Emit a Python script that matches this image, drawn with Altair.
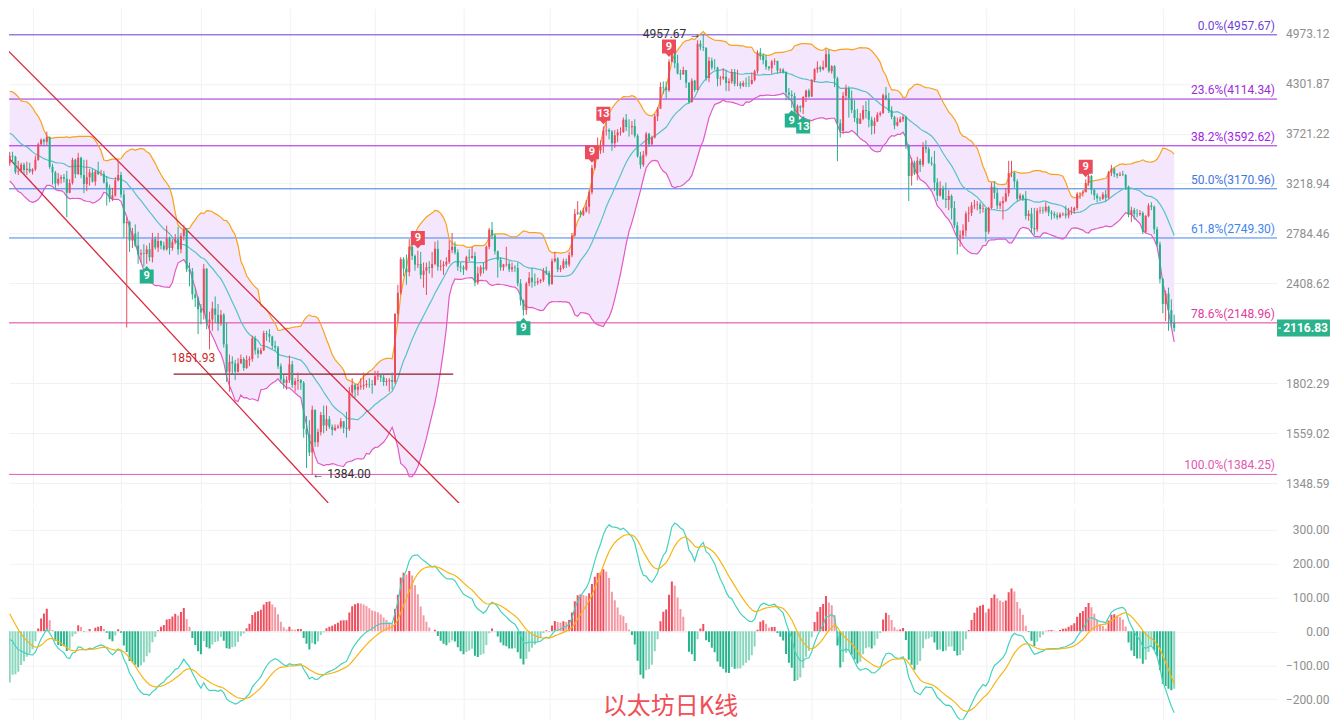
import altair as alt
import numpy as np
import pandas as pd

TITLE = "以太坊日K线"

# ---------------- data (ETH/USDT daily) ----------------
# warm-up closes (2024-09-01 .. 2024-12-23) used only for the indicators
warm_close = [
    2530, 2515, 2450, 2420, 2370, 2225, 2275, 2270, 2350, 2340, 2360, 2360, 2440, 2415, 2320,
    2290, 2340, 2330, 2470, 2560, 2615, 2580, 2650, 2650, 2580, 2630, 2695, 2680, 2655, 2600,
    2450, 2470, 2350, 2420, 2410, 2440, 2420, 2440, 2370, 2385, 2440, 2470, 2470, 2630, 2610,
    2610, 2605, 2650, 2645, 2750, 2670, 2620, 2520, 2535, 2420, 2470, 2505, 2565, 2640, 2660, 2520,
    2510, 2515, 2455, 2400, 2420, 2720, 2890, 2960, 3130, 3180, 3370, 3250, 3185, 3060, 3100,
    3130, 3075, 3210, 3100, 3070, 3355, 3330, 3390, 3360, 3415, 3325, 3655, 3590, 3590, 3705,
    3710, 3640, 3615, 3835, 3785, 4000, 3995, 4005, 3715, 3630, 3835, 3880, 3910, 3875, 3960,
    3990, 3890, 3625, 3420, 3470, 3330, 3280, 3415,
]

c_2412 = [3490, 3480, 3330, 3335, 3400, 3350, 3360, 3335]
h_2412 = [3530, 3530, 3490, 3440, 3420, 3420, 3430, 3420]
l_2412 = [3390, 3420, 3310, 3300, 3320, 3310, 3300, 3320]

c_2501 = [3355, 3450, 3610, 3655, 3635, 3685, 3380, 3325, 3220, 3265, 3280, 3265, 3135, 3225, 3450, 3310,
          3470, 3300, 3215, 3280, 3325, 3240, 3335, 3310, 3310, 3230, 3180, 3080, 3110, 3250, 3300]
h_2501 = [3365, 3490, 3625, 3670, 3670, 3745, 3690, 3410, 3340, 3320, 3300, 3310, 3340, 3260, 3470, 3460,
          3520, 3480, 3450, 3450, 3360, 3360, 3350, 3430, 3350, 3340, 3290, 3210, 3180, 3280, 3440]
l_2501 = [3305, 3340, 3440, 3590, 3590, 3600, 3360, 3210, 3170, 3200, 3220, 3230, 2920, 3130, 3210, 3270,
          3300, 3270, 3130, 3150, 3200, 3230, 3200, 3300, 3290, 3220, 3020, 3050, 3060, 3100, 3240]

c_2502 = [3120, 2870, 2880, 2730, 2785, 2690, 2620, 2630, 2625, 2660, 2600, 2740, 2675, 2725,
          2690, 2660, 2745, 2670, 2715, 2740, 2660, 2765, 2815, 2510, 2495, 2335, 2310, 2235]
h_2502 = [3330, 3160, 2920, 2890, 2830, 2860, 2800, 2660, 2700, 2690, 2710, 2790, 2760, 2790,
          2730, 2720, 2850, 2760, 2740, 2780, 2840, 2790, 2855, 2830, 2560, 2520, 2380, 2320]
l_2502 = [3090, 2750, 2120, 2640, 2670, 2680, 2550, 2560, 2530, 2550, 2570, 2560, 2660, 2640,
          2660, 2650, 2650, 2620, 2650, 2700, 2620, 2630, 2730, 2490, 2390, 2300, 2250, 2080]

c_2503 = [2215, 2515, 2150, 2170, 2240, 2200, 2145, 2200, 2020, 1865, 1920, 1910, 1865, 1910, 1935, 1885,
          1930, 1935, 2055, 1985, 1965, 1985, 2085, 2080, 2065, 2010, 2000, 1895, 1825, 1805, 1820]
h_2503 = [2270, 2550, 2520, 2220, 2285, 2320, 2270, 2230, 2210, 2150, 1960, 1950, 1930, 1940, 1960, 1945,
          1955, 1950, 2070, 2070, 2000, 2000, 2100, 2100, 2110, 2070, 2040, 2010, 1910, 1850, 1840]
l_2503 = [2140, 2170, 2110, 1990, 2100, 2150, 2100, 2130, 2000, 1810, 1760, 1850, 1820, 1860, 1910, 1870,
          1880, 1895, 1920, 1960, 1940, 1960, 1980, 2040, 2030, 1990, 1980, 1880, 1810, 1775, 1770]

c_2504 = [1905, 1795, 1815, 1820, 1805, 1580, 1555, 1475, 1670, 1520, 1565, 1645, 1595, 1625, 1590,
          1575, 1585, 1590, 1615, 1585, 1580, 1755, 1795, 1770, 1785, 1790, 1795, 1800, 1798, 1795]
h_2504 = [1955, 1925, 1830, 1860, 1825, 1815, 1640, 1620, 1690, 1670, 1580, 1660, 1690, 1690, 1640,
          1600, 1600, 1600, 1630, 1610, 1660, 1785, 1830, 1800, 1800, 1830, 1860, 1820, 1830, 1820]
l_2504 = [1805, 1780, 1760, 1770, 1770, 1540, 1410, 1460, 1384, 1500, 1500, 1550, 1560, 1570, 1580,
          1550, 1570, 1580, 1580, 1560, 1540, 1570, 1730, 1730, 1740, 1770, 1770, 1780, 1780, 1750]

c_2505 = [1840, 1845, 1835, 1810, 1815, 1820, 1810, 2205, 2345, 2585, 2515, 2490, 2680, 2610, 2545, 2550,
          2470, 2500, 2525, 2520, 2550, 2665, 2530, 2535, 2545, 2565, 2655, 2680, 2635, 2530, 2525]
h_2505 = [1870, 1870, 1850, 1850, 1830, 1830, 1860, 2210, 2400, 2600, 2600, 2620, 2740, 2730, 2620, 2650,
          2640, 2560, 2560, 2570, 2640, 2720, 2730, 2580, 2570, 2600, 2730, 2790, 2720, 2660, 2560]
l_2505 = [1790, 1820, 1810, 1790, 1790, 1760, 1770, 1800, 2150, 2330, 2460, 2400, 2460, 2580, 2500, 2520,
          2440, 2380, 2330, 2480, 2450, 2540, 2500, 2500, 2470, 2530, 2550, 2630, 2620, 2500, 2490]

c_2506 = [2510, 2600, 2595, 2610, 2415, 2480, 2525, 2510, 2680, 2815, 2770, 2645, 2580, 2525, 2545,
          2550, 2510, 2525, 2520, 2410, 2295, 2230, 2410, 2450, 2420, 2415, 2425, 2435, 2500, 2485]
h_2506 = [2540, 2610, 2660, 2680, 2640, 2530, 2540, 2560, 2690, 2830, 2880, 2780, 2650, 2600, 2550,
          2680, 2570, 2560, 2540, 2560, 2440, 2300, 2420, 2490, 2520, 2480, 2450, 2440, 2520, 2530]
l_2506 = [2470, 2500, 2570, 2590, 2390, 2400, 2460, 2480, 2500, 2660, 2740, 2620, 2450, 2500, 2500,
          2530, 2490, 2490, 2490, 2390, 2260, 2195, 2200, 2390, 2380, 2390, 2400, 2410, 2420, 2470]

c_2507 = [2405, 2570, 2590, 2510, 2520, 2570, 2545, 2615, 2770, 2950, 2960, 2940, 2970, 3010, 3140, 3370,
          3475, 3545, 3595, 3755, 3760, 3745, 3620, 3705, 3735, 3740, 3875, 3795, 3790, 3805, 3700]
h_2507 = [2500, 2590, 2640, 2600, 2540, 2590, 2590, 2640, 2790, 2990, 3060, 2980, 3000, 3070, 3160, 3400,
          3540, 3680, 3650, 3800, 3860, 3780, 3760, 3760, 3770, 3790, 3900, 3940, 3880, 3860, 3880]
l_2507 = [2390, 2400, 2560, 2490, 2490, 2510, 2520, 2530, 2600, 2760, 2940, 2920, 2930, 2960, 2950, 3120,
          3350, 3460, 3510, 3520, 3700, 3660, 3540, 3570, 3630, 3700, 3730, 3750, 3690, 3710, 3680]

c_2508 = [3485, 3400, 3500, 3720, 3610, 3680, 3915, 4000, 4260, 4255, 4220, 4585, 4750, 4565, 4430, 4420,
          4475, 4315, 4080, 4340, 4225, 4830, 4785, 4775, 4375, 4600, 4510, 4505, 4365, 4370, 4390]
h_2508 = [3720, 3530, 3540, 3740, 3730, 3700, 3940, 4020, 4320, 4330, 4330, 4620, 4790, 4790, 4680, 4480,
          4520, 4470, 4320, 4370, 4350, 4880, 4880, 4957.67, 4780, 4650, 4640, 4620, 4520, 4400, 4500]
l_2508 = [3470, 3360, 3380, 3480, 3580, 3600, 3670, 3860, 4000, 4180, 4120, 4200, 4580, 4500, 4420, 4350,
          4420, 4250, 4060, 4070, 4200, 4220, 4740, 4730, 4340, 4320, 4480, 4480, 4270, 4280, 4350]

c_2509 = [4310, 4330, 4450, 4300, 4305, 4275, 4310, 4305, 4300, 4350, 4460, 4710, 4665, 4605, 4520,
          4500, 4590, 4595, 4470, 4480, 4450, 4195, 4165, 4150, 3875, 4030, 4015, 4140, 4215, 4145]
h_2509 = [4480, 4370, 4490, 4490, 4480, 4330, 4340, 4380, 4400, 4440, 4480, 4740, 4770, 4700, 4680,
          4530, 4610, 4630, 4600, 4500, 4500, 4460, 4250, 4220, 4190, 4050, 4040, 4150, 4230, 4240]
l_2509 = [4210, 4210, 4300, 4270, 4270, 4240, 4260, 4260, 4260, 4290, 4330, 4430, 4610, 4550, 4480,
          4470, 4430, 4540, 4430, 4440, 4430, 4100, 4100, 4010, 3830, 3820, 3960, 3940, 4080, 4130]

c_2510 = [4350, 4485, 4510, 4485, 4515, 4685, 4460, 4525, 4370, 3835, 3750, 4155, 4245, 4125, 3985, 3895,
          3830, 3885, 3985, 3975, 3875, 3805, 3855, 3935, 3950, 4160, 4115, 3980, 3905, 3810, 3850]
h_2510 = [4360, 4500, 4590, 4530, 4600, 4755, 4750, 4540, 4540, 4390, 3880, 4200, 4290, 4270, 4220, 4100,
          4000, 3950, 4040, 4090, 4110, 3910, 3900, 3960, 3970, 4180, 4260, 4190, 4030, 3920, 3900]
l_2510 = [4140, 4320, 4440, 4450, 4470, 4500, 4440, 4430, 4260, 3435, 3680, 3720, 4100, 3900, 3950, 3850,
          3700, 3830, 3870, 3890, 3790, 3710, 3720, 3850, 3910, 3940, 4100, 3950, 3880, 3770, 3800]

c_2511 = [3880, 3905, 3600, 3290, 3420, 3315, 3440, 3400, 3580, 3560, 3420, 3410, 3230, 3110, 3170,
          3080, 3070, 3105, 3000, 2850, 2760, 2770, 2810, 2950, 2955, 3020, 3025, 3030, 2990, 2995]
h_2511 = [3910, 3930, 3920, 3610, 3470, 3440, 3480, 3460, 3630, 3650, 3580, 3480, 3540, 3270, 3240,
          3200, 3230, 3160, 3120, 3060, 2880, 2810, 2860, 2970, 3010, 3050, 3070, 3060, 3050, 3030]
l_2511 = [3840, 3850, 3560, 3060, 3200, 3300, 3250, 3330, 3380, 3520, 3410, 3390, 3150, 3060, 3100,
          3070, 3000, 2980, 2900, 2830, 2620, 2680, 2740, 2760, 2880, 2930, 2990, 2980, 2950, 2960]

c_2512 = [2800, 3000, 3190, 3135, 3020, 3040, 3060, 3130, 3320, 3325, 3240, 3080, 3110, 3080, 2930, 2950,
          2830, 2820, 2975, 2980, 2975, 3010, 2960, 2950, 2935, 2920, 2945, 2950, 2935, 2970, 2975]
h_2512 = [3000, 3010, 3230, 3240, 3180, 3060, 3100, 3180, 3440, 3440, 3330, 3260, 3130, 3120, 3150, 2980,
          3000, 3000, 3000, 3010, 3010, 3050, 3020, 2980, 2970, 2960, 2960, 2960, 3020, 3000, 3010]
l_2512 = [2720, 2780, 2990, 3080, 2990, 2990, 2900, 3050, 3100, 3280, 3180, 3060, 3070, 3060, 2900, 2890,
          2790, 2775, 2800, 2950, 2950, 2960, 2930, 2900, 2910, 2900, 2910, 2930, 2910, 2910, 2940]

c_2601 = [3000, 3125, 3130, 3140, 3225, 3290, 3160, 3110, 3085, 3080, 3120, 3090, 3325, 3360, 3310, 3295,
          3305, 3300, 3190, 2940, 2980, 2950, 2945, 2955, 2800, 2930, 3020, 3010, 2820, 2700, 2440]
h_2601 = [3010, 3140, 3140, 3160, 3260, 3310, 3300, 3170, 3130, 3100, 3140, 3160, 3340, 3400, 3370, 3320,
          3330, 3340, 3310, 3200, 3010, 3000, 2990, 2980, 2970, 2940, 3040, 3050, 3020, 2840, 2720]
l_2601 = [2950, 2980, 3080, 3100, 3140, 3200, 3120, 3070, 3050, 3060, 3070, 3060, 3080, 3290, 3280, 3270,
          3290, 3290, 3160, 2920, 2880, 2900, 2920, 2930, 2780, 2790, 2920, 2980, 2780, 2680, 2410]

c_2602 = [2270, 2340, 2230, 2150, 2116.83]
h_2602 = [2450, 2360, 2380, 2300, 2200]
l_2602 = [2210, 2160, 2100, 2120, 2095]

first_day = "2024-12-24"

# Fibonacci retracement
fib_high = 4957.67
fib_low = 1384.25
fib_pcts = [0.0, 0.236, 0.382, 0.5, 0.618, 0.786, 1.0]
fib_colors = ["#6f3fd6", "#9b2bd9", "#a21fe6", "#3f78e0", "#3f85ee", "#e03c9f", "#e258b2"]

# right-axis price ticks
price_ticks = [4973.12, 4301.87, 3721.22, 3218.94, 2784.46, 2408.62, 1802.29, 1559.02, 1348.59]
macd_ticks = [-200, -100, 0, 100, 200, 300]

# TD sequential markers: candle index, text, side
td_idx = [48, 143, 180, 204, 208, 231, 274, 278, 377]
td_text = ["9", "9", "9", "9", "13", "9", "9", "13", "9"]
td_side = ["buy", "sell", "buy", "sell", "sell", "sell", "buy", "buy", "sell"]

# drawings
ath_idx, ath_text = 243, "4957.67 →"
low_idx, low_text = 106, "← 1384.00"
lvl_price, lvl_start, lvl_end, lvl_text = 1851.93, 57.43, 155.4, "1851.93"
chan_line = ["a", "a", "b", "b"]
chan_idx = [-1.275, 157.46, -1.275, 111.61]
chan_price = [4762.8, 1273.3, 3496.3, 1274.4]

# ---------------- build table ----------------
month_c = [c_2412, c_2501, c_2502, c_2503, c_2504, c_2505, c_2506, c_2507, c_2508,
           c_2509, c_2510, c_2511, c_2512, c_2601, c_2602]
month_h = [h_2412, h_2501, h_2502, h_2503, h_2504, h_2505, h_2506, h_2507, h_2508,
           h_2509, h_2510, h_2511, h_2512, h_2601, h_2602]
month_l = [l_2412, l_2501, l_2502, l_2503, l_2504, l_2505, l_2506, l_2507, l_2508,
           l_2509, l_2510, l_2511, l_2512, l_2601, l_2602]
for a, b, c in zip(month_c, month_h, month_l):
    if not (len(a) == len(b) == len(c)):
        raise ValueError(f"length mismatch {len(a)} {len(b)} {len(c)}")
close = [v for m in month_c for v in m]
high = [v for m in month_h for v in m]
low = [v for m in month_l for v in m]
n = len(close)
k = len(warm_close)
dates = pd.date_range(first_day, periods=n, freq="D")

allc = pd.Series(warm_close + close, dtype=float)
ma = allc.rolling(20).mean()
sd = allc.rolling(20).std(ddof=0)
ema12 = allc.ewm(span=12, adjust=False).mean()
ema26 = allc.ewm(span=26, adjust=False).mean()
dif = ema12 - ema26
dea = dif.ewm(span=9, adjust=False).mean()
hist = 2 * (dif - dea)
prev = hist.shift(1)

RED, GREEN = "#ec4b5b", "#26b08b"
HIST_COLORS = {"pu": "#ee4f5e", "pd": "#f59aa4", "nd": "#2ab48d", "nu": "#8ad6be"}

df = pd.DataFrame({
    "i": np.arange(n),
    "open": allc.shift(1).iloc[k:].values,
    "close": close,
    "high": high,
    "low": low,
    "mid": ma.iloc[k:].values,
    "up": (ma + 2 * sd).iloc[k:].values,
    "dn": (ma - 2 * sd).iloc[k:].values,
    "dif": dif.iloc[k:].values,
    "dea": dea.iloc[k:].values,
    "hist": hist.iloc[k:].values,
    "prev": prev.iloc[k:].values,
})
df["high"] = df[["high", "open", "close"]].max(axis=1)
df["low"] = df[["low", "open", "close"]].min(axis=1)
df["col"] = np.where(df["close"] >= df["open"], RED, GREEN)
df["zero"] = 0.0
hc = np.where(df["hist"] >= 0,
              np.where(df["hist"] >= df["prev"], "pu", "pd"),
              np.where(df["hist"] <= df["prev"], "nd", "nu"))
df["hcol"] = [HIST_COLORS[h] for h in hc]
df = df.drop(columns=["prev"])

month_idx = [int(j) for j, d in enumerate(dates) if d.day == 1]

fib = pd.DataFrame({
    "price": [fib_high - p * (fib_high - fib_low) for p in fib_pcts],
    "name": [f"{p * 100:.1f}%" for p in fib_pcts],
    "col": fib_colors,
})
fib["label"] = [f"{nm}({v:.2f})" for nm, v in zip(fib["name"], fib["price"])]

td = pd.DataFrame({"i": td_idx, "label": td_text, "side": td_side})
td["anchor"] = [df.loc[j, "high"] if s == "sell" else df.loc[j, "low"] for j, s in zip(td_idx, td_side)]

chan = pd.DataFrame({"ln": chan_line, "i": chan_idx, "p": chan_price})
lvl = pd.DataFrame({"i0": [lvl_start], "i1": [lvl_end], "p": [lvl_price], "t": [lvl_text]})
ath = pd.DataFrame({"i": [ath_idx], "p": [fib_high], "t": [ath_text]})
lowa = pd.DataFrame({"i": [low_idx], "p": [1384.00], "t": [low_text]})
last = df.tail(1)

# ---------------- chart ----------------
W, H1, H2 = 1269, 495, 213
FONT = "Roboto"
BOXW = 53

xs = alt.Scale(domain=[1.504, 442.28], nice=False, zero=False)
xax = alt.Axis(values=month_idx, labels=False, ticks=False, domain=False, grid=True,
               gridColor="#f1f1f3", title=None)


def X(f="i"):
    return alt.X(f"{f}:Q", scale=xs, axis=xax)


ys = alt.Scale(type="log", domain=[1274.4, 5354.9], nice=False, zero=False)
yax = alt.Axis(orient="right", values=price_ticks, format=".2f", labelColor="#8f8f8f", labelFont=FONT,
               labelFontSize=12, labelAlign="right", labelBaseline="middle", labelPadding=52,
               ticks=False, domain=False, grid=True, gridColor="#f1f1f3", title=None)


def Y(f):
    return alt.Y(f"{f}:Q", scale=ys, axis=yax)


COL = alt.Color("col:N", scale=None)

base = alt.Chart(df)
bb_fill = base.mark_area(color="#f4e6fc", clip=True).encode(x=X(), y=Y("up"), y2="dn")
fib_rule = alt.Chart(fib).mark_rule(strokeWidth=1).encode(y=Y("price"), color=COL)
bb_up = base.mark_line(color="#f9a21c", strokeWidth=1.2, clip=True).encode(x=X(), y=Y("up"))
bb_mid = base.mark_line(color="#55c3c8", strokeWidth=1.2, clip=True).encode(x=X(), y=Y("mid"))
bb_dn = base.mark_line(color="#e15bc6", strokeWidth=1.2, clip=True).encode(x=X(), y=Y("dn"))
chan_l = alt.Chart(chan).mark_line(color="#d8283c", strokeWidth=1.3, clip=True).encode(
    x=X(), y=Y("p"), detail="ln:N")
lvl_l = alt.Chart(lvl).mark_rule(color="#8e1b27", strokeWidth=1.2).encode(x=X("i0"), x2="i1", y=Y("p"))
lvl_t = alt.Chart(lvl).mark_text(color="#c62828", font=FONT, fontSize=12, align="left",
                                 baseline="middle", dy=-16, dx=-2).encode(x=X("i0"), y=Y("p"), text="t:N")
wick = base.mark_rule(strokeWidth=1, clip=True).encode(x=X(), y=Y("low"), y2="high", color=COL)
body = base.mark_bar(size=2, clip=True).encode(x=X(), y=Y("open"), y2="close", color=COL)

sell_path = "M0,-0.3L-0.45,-0.8L-1,-0.8L-1,-2.8L1,-2.8L1,-0.8L0.45,-0.8Z"
buy_path = "M0,0.3L-0.45,0.8L-1,0.8L-1,2.8L1,2.8L1,0.8L0.45,0.8Z"
td_s = alt.Chart(td[td.side == "sell"])
td_b = alt.Chart(td[td.side == "buy"])
td_sell = td_s.mark_point(shape=sell_path, size=196, filled=True, opacity=1, color=RED,
                          strokeWidth=0).encode(x=X(), y=Y("anchor"))
td_sell_t = td_s.mark_text(color="white", font=FONT, fontSize=11, fontWeight="bold",
                           baseline="middle", dy=-12.6).encode(x=X(), y=Y("anchor"), text="label:N")
td_buy = td_b.mark_point(shape=buy_path, size=196, filled=True, opacity=1, color=GREEN,
                         strokeWidth=0).encode(x=X(), y=Y("anchor"))
td_buy_t = td_b.mark_text(color="white", font=FONT, fontSize=11, fontWeight="bold",
                          baseline="middle", dy=12.6).encode(x=X(), y=Y("anchor"), text="label:N")

ath_t = alt.Chart(ath).mark_text(color="#333333", font=FONT, fontSize=12, align="right",
                                 baseline="middle", dx=-2, dy=-1).encode(x=X(), y=Y("p"), text="t:N")
low_t = alt.Chart(lowa).mark_text(color="#333333", font=FONT, fontSize=12, align="left",
                                  baseline="middle", dx=0).encode(x=X(), y=Y("p"), text="t:N")
fib_t = alt.Chart(fib).mark_text(font=FONT, fontSize=12, align="right", baseline="alphabetic",
                                 dy=-5).encode(x=alt.value(W - 2), y=Y("price"), text="label:N", color=COL)

half = 8.5 / (BOXW / 2)
box_path = f"M-1,-{half:.4f}L1,-{half:.4f}L1,{half:.4f}L-1,{half:.4f}Z"
last_box = alt.Chart(last).mark_point(shape=box_path, size=BOXW * BOXW, filled=True, opacity=1,
                                      color="#2cb38b", strokeWidth=0).encode(
    x=alt.value(W + BOXW / 2), y=Y("close"))
last_tick = alt.Chart(last).mark_rule(color="white", strokeWidth=1).encode(
    x=alt.value(W + 1), x2=alt.value(W + 4), y=Y("close"))
last_txt = alt.Chart(last).mark_text(color="white", font=FONT, fontSize=12, fontWeight="bold",
                                     baseline="middle").encode(
    x=alt.value(W + BOXW / 2 + 2), y=Y("close"), text=alt.Text("close:Q", format=".2f"))

main = alt.layer(bb_fill, fib_rule, bb_up, bb_mid, bb_dn, chan_l, lvl_l, lvl_t, wick, body,
                 td_sell, td_sell_t, td_buy, td_buy_t, ath_t, low_t, fib_t,
                 last_box, last_tick, last_txt).properties(width=W, height=H1)

ms = alt.Scale(domain=[-260.3, 366.2], nice=False, zero=False)
max_ = alt.Axis(orient="right", values=macd_ticks, format=".2f", labelColor="#8f8f8f", labelFont=FONT,
                labelFontSize=12, labelAlign="right", labelBaseline="middle", labelPadding=52,
                ticks=False, domain=False, grid=True, gridColor="#f3f3f5", title=None)


def M(f):
    return alt.Y(f"{f}:Q", scale=ms, axis=max_)


hist_b = base.mark_bar(size=2, clip=True).encode(
    x=X(), y=M("hist"), y2="zero", color=alt.Color("hcol:N", scale=None))
dif_l = base.mark_line(color="#43d3bd", strokeWidth=1.2, clip=True).encode(x=X(), y=M("dif"))
dea_l = base.mark_line(color="#f8b512", strokeWidth=1.2, clip=True).encode(x=X(), y=M("dea"))
title_t = alt.Chart(pd.DataFrame({"t": [TITLE]})).mark_text(
    font="Noto Sans CJK SC", fontSize=24, color="#f04e58", align="center", baseline="middle").encode(
    x=alt.value(662), y=alt.value(200), text="t:N")

macd = alt.layer(hist_b, dif_l, dea_l, title_t).properties(width=W, height=H2)

chart = alt.vconcat(main, macd, spacing=4).properties(padding=0, background="white").configure_view(stroke=None)

chart.save("out.html", embed_options={"renderer": "svg", "actions": False})
